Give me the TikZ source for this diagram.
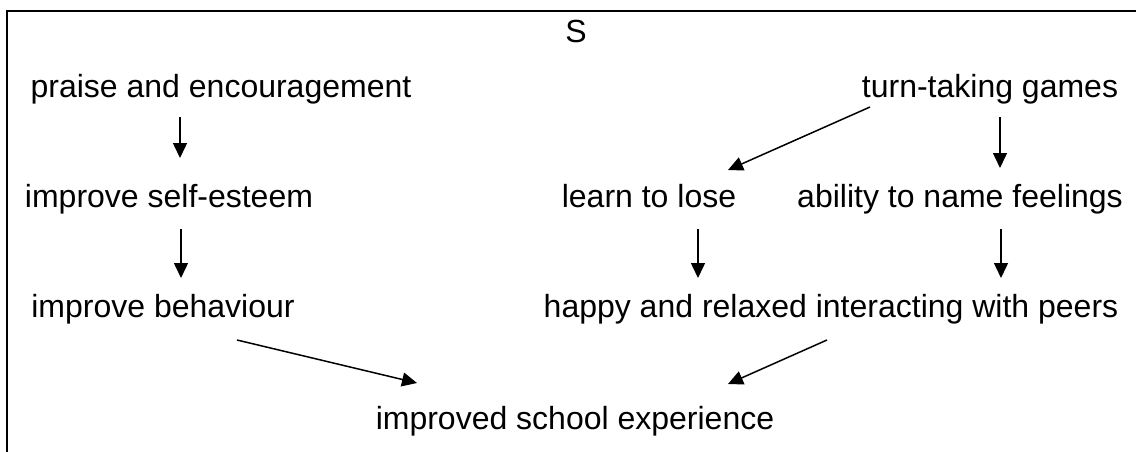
\documentclass[tikz,border=0pt]{standalone}
\usepackage{fontspec}
\setmainfont{Liberation Sans}
\usetikzlibrary{arrows.meta}
\begin{document}
\begin{tikzpicture}[x=1pt,y=-1pt,
  lbl/.style={anchor=base,inner sep=0pt,font=\fontsize{32}{38}\selectfont},
  arr/.style={line width=1.5pt,-{Triangle[length=15pt,width=14pt]}},
  frame/.style={line width=2pt}]
\useasboundingbox (0,0) rectangle (1136,452);
\coordinate (fbl) at (7,452);
\coordinate (ftl) at (7,11);
\coordinate (ftr) at (1136,11);
\draw[frame] (fbl) -- (ftl) -- (ftr);
\node[lbl] (s) at (576,43) {S};
\node[lbl] (praise) at (221,98) {praise and encouragement};
\node[lbl] (turn) at (990,98) {turn-taking games};
\node[lbl] (se) at (169,207) {improve self-esteem};
\node[lbl] (learn) at (649,207) {learn to lose};
\node[lbl] (ability) at (960,207) {ability to name feelings};
\node[lbl] (beh) at (163,317) {improve behaviour};
\node[lbl] (happy) at (831,317) {happy and relaxed interacting with peers};
\node[lbl] (school) at (575,429) {improved school experience};
\draw[arr] ([shift={(-41,19)}]praise.base) -- ([shift={(11,-49)}]se.base);
\draw[arr] ([shift={(12,22)}]se.base) -- ([shift={(18,-39)}]beh.base);
\draw[arr] ([shift={(-120,9)}]turn.base) -- ([shift={(79,-37)}]learn.base);
\draw[arr] ([shift={(10,19)}]turn.base) -- ([shift={(40,-39)}]ability.base);
\draw[arr] ([shift={(49,22)}]learn.base) -- ([shift={(-133,-39)}]happy.base);
\draw[arr] ([shift={(41,22)}]ability.base) -- ([shift={(170,-39)}]happy.base);
\draw[arr] ([shift={(74,23)}]beh.base) -- ([shift={(-158,-46)}]school.base);
\draw[arr] ([shift={(-4,23)}]happy.base) -- ([shift={(153,-45)}]school.base);
\end{tikzpicture}
\end{document}
